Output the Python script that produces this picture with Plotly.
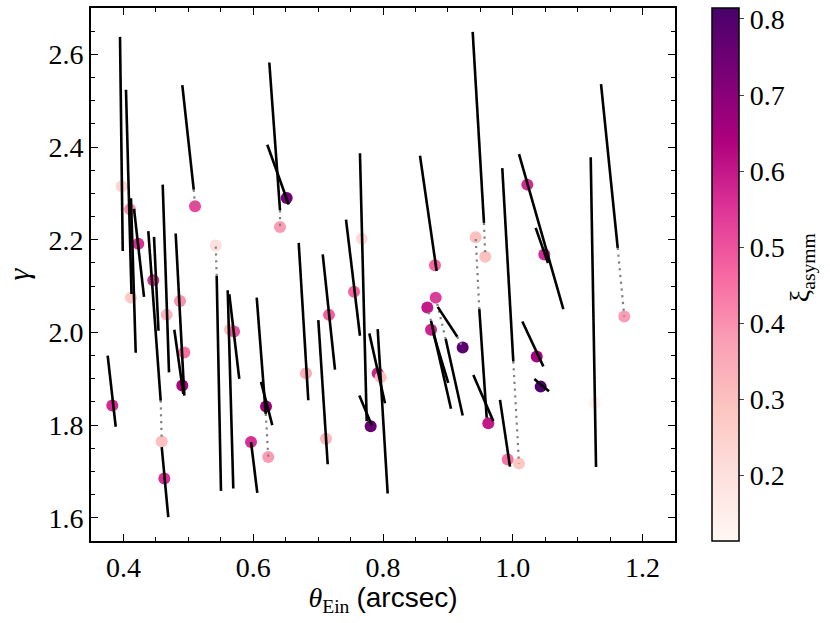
import numpy as np
import plotly.graph_objects as go

# lens points: Einstein radius, slope gamma, asymmetry colour
theta_ein = [0.3973, 0.4101, 0.4229, 0.4116, 0.4460, 0.4590, 0.4667, 0.4872, 0.4938,
             0.4907, 0.3828, 0.4630, 0.5103, 0.5422, 0.5642, 0.5704, 0.5966, 0.6197,
             0.6232, 0.6413, 0.6516, 0.6813, 0.7168, 0.7121, 0.7553, 0.7672, 0.7810,
             0.7918, 0.7964, 0.8801, 0.8812, 0.8683, 0.8740, 0.9228, 0.9428, 0.9576,
             0.9623, 0.9922, 1.0096, 1.0224, 1.0486, 1.0369, 1.0430, 1.1262, 1.1718]
gamma = [2.3152, 2.2658, 2.1912, 2.0751, 2.1125, 1.7649, 2.0379, 2.0680, 1.9569,
         1.8853, 1.8423, 1.6847, 2.2722, 2.1877, 2.0057, 2.0020, 1.7634, 1.8402,
         1.7312, 2.2277, 2.2901, 1.9117, 2.0379, 1.7707, 2.0880, 2.2019, 1.7978,
         1.9117, 1.9031, 2.1448, 2.0751, 2.0536, 2.0057, 1.9676, 2.2056, 2.1632,
         1.8043, 1.7256, 1.7170, 2.3189, 2.1684, 1.9483, 1.8831, 1.8473, 2.0343]
xi_asymm = [0.24, 0.40, 0.56, 0.28, 0.56, 0.30, 0.33, 0.40, 0.45,
            0.64, 0.57, 0.56, 0.52, 0.20, 0.30, 0.50, 0.56, 0.66,
            0.38, 0.38, 0.74, 0.35, 0.48, 0.32, 0.47, 0.22, 0.76,
            0.58, 0.30, 0.47, 0.54, 0.60, 0.58, 0.78, 0.30, 0.30,
            0.60, 0.45, 0.28, 0.57, 0.57, 0.65, 0.80, 0.13, 0.38]

# black segments (start / end)
seg_x0 = [0.3947, 0.4039, 0.4116, 0.4163, 0.4383, 0.4471, 0.4605, 0.4805, 0.4784,
          0.3757, 0.4590, 0.4907, 0.5437, 0.5607, 0.5631, 0.5966, 0.6054, 0.6120,
          0.6248, 0.6217, 0.6701, 0.7071, 0.7003, 0.7430, 0.7645, 0.7635, 0.7789,
          0.7918, 0.8570, 0.8966, 0.8740, 0.8775, 0.8843, 0.9484, 0.9382, 0.9392,
          0.9803, 0.9838, 1.0096, 1.0353, 1.0147, 1.0332, 1.1201, 1.1360]
seg_y0 = [2.6377, 2.5237, 2.2894, 2.2664, 2.2185, 2.2062, 2.3189, 2.2135, 2.0057,
          1.9498, 1.7527, 2.5338, 2.1218, 2.0910, 2.0824, 1.7634, 2.0751, 1.8932,
          2.5824, 2.4049, 2.1933, 2.1684, 2.0265, 2.2436, 2.3868, 1.8638, 1.9980,
          2.0072, 2.3812, 1.9857, 2.0250, 1.9980, 2.0551, 2.0502, 2.6484, 1.9083,
          1.8546, 2.3546, 2.3847, 2.2256, 2.0236, 1.8997, 2.3782, 2.5360]
seg_x1 = [0.3989, 0.4124, 0.4189, 0.4317, 0.4574, 0.4540, 0.4702, 0.4938, 0.4923,
          0.3881, 0.4691, 0.5083, 0.5503, 0.5693, 0.5785, 0.6063, 0.6193, 0.6294,
          0.6413, 0.6547, 0.6849, 0.7260, 0.7148, 0.7645, 0.7749, 0.7826, 0.8031,
          0.8072, 0.8827, 0.9228, 0.9048, 0.9006, 0.9145, 0.9598, 0.9556, 0.9700,
          0.9957, 1.0008, 1.0779, 1.0543, 1.0471, 1.0558, 1.1283, 1.1617]
seg_y1 = [2.1755, 2.0830, 1.9562, 2.0766, 1.8530, 2.0035, 1.9139, 1.8638, 1.8675,
          1.7965, 1.6017, 2.3081, 1.6581, 1.6632, 1.8997, 1.6538, 1.8245, 1.8000,
          2.2636, 2.2759, 1.8537, 1.9197, 1.7155, 1.9928, 1.8086, 1.8000, 1.8473,
          1.6525, 2.1325, 1.8208, 1.8352, 1.8911, 1.9907, 1.8159, 2.2363, 1.8086,
          1.7105, 1.9375, 2.0502, 2.1497, 1.9268, 1.8730, 1.7097, 2.1826]

# points that sit off their segment: point index -> segment index (dotted link)
link_point = [5, 12, 13, 18, 19, 30, 31, 33, 34, 35, 38, 44]
link_seg = [4, 11, 12, 16, 18, 29, 30, 32, 33, 34, 37, 43]

serif = "Liberation Serif"

fig = go.Figure()

fig.add_trace(go.Scatter(
    x=theta_ein, y=gamma, mode="markers",
    marker=dict(size=12, color=xi_asymm, colorscale="RdPu", cmin=0.1135, cmax=0.8144,
                line=dict(width=0),
                colorbar=dict(x=1.0634, xanchor="left", xpad=0, y=0.5, yanchor="middle",
                              ypad=0, len=1, thickness=27, outlinewidth=1.5,
                              outlinecolor="black", ticks="outside", ticklen=5,
                              tickwidth=1.3, tickvals=[0.2, 0.3, 0.4, 0.5, 0.6, 0.7, 0.8],
                              tickformat=".1f", tickfont=dict(family=serif, size=28))),
    showlegend=False, hoverinfo="skip"))

# dotted links from the point to the nearest end of its segment
lx, ly = [], []
for p, s in zip(link_point, link_seg):
    px, py = theta_ein[p], gamma[p]
    d0 = np.hypot(px - seg_x0[s], (py - seg_y0[s]) * 0.72)
    d1 = np.hypot(px - seg_x1[s], (py - seg_y1[s]) * 0.72)
    ex, ey = (seg_x0[s], seg_y0[s]) if d0 < d1 else (seg_x1[s], seg_y1[s])
    lx += [ex, px, None]
    ly += [ey, py, None]
fig.add_trace(go.Scatter(x=lx, y=ly, mode="lines",
                         line=dict(color="rgb(128,128,128)", width=2.2, dash="2.2px,4.6px"),
                         showlegend=False, hoverinfo="skip"))

sx, sy = [], []
for a, b, c, d in zip(seg_x0, seg_y0, seg_x1, seg_y1):
    sx += [a, c, None]
    sy += [b, d, None]
fig.add_trace(go.Scatter(x=sx, y=sy, mode="lines", line=dict(color="black", width=2.6),
                         showlegend=False, hoverinfo="skip"))

axis_common = dict(showline=True, linecolor="black", linewidth=1.8, mirror="ticks",
                   ticks="inside", ticklen=7, tickwidth=1.3, tickcolor="black",
                   showgrid=False, zeroline=False, tickformat=".1f",
                   tickfont=dict(family=serif, size=28, color="black"),
                   minor=dict(ticks="inside", ticklen=4, tickwidth=1.1, dtick=0.05,
                              tickcolor="black", showgrid=False))

fig.update_layout(
    width=830, height=623, autosize=False,
    margin=dict(l=91, r=155, t=6, b=82),
    paper_bgcolor="white", plot_bgcolor="white",
    font=dict(family=serif, color="black"),
    xaxis=dict(range=[0.35, 1.25], tick0=0.4, dtick=0.2,
               title=dict(text="<i>θ</i><sub>Ein</sub> <span style='font-family:Liberation Sans'>(arcsec)</span>",
                          font=dict(family=serif, size=28), standoff=4),
               **axis_common),
    yaxis=dict(range=[1.55, 2.7], tick0=1.6, dtick=0.2,
               title=dict(text="<i>γ</i>", font=dict(family=serif, size=30), standoff=10),
               **axis_common),
    annotations=[dict(text="ξ<sub>asymm</sub>", textangle=-90, xref="paper", yref="paper",
                      x=1.216, y=0.512, xanchor="center", yanchor="middle", showarrow=False,
                      font=dict(family=serif, size=28, color="black"))],
)

# drop the page's default body margin so the figure sits at the top-left corner
fig.write_html("out.html", config={"displayModeBar": False},
               post_script="document.body.style.margin='0';")
